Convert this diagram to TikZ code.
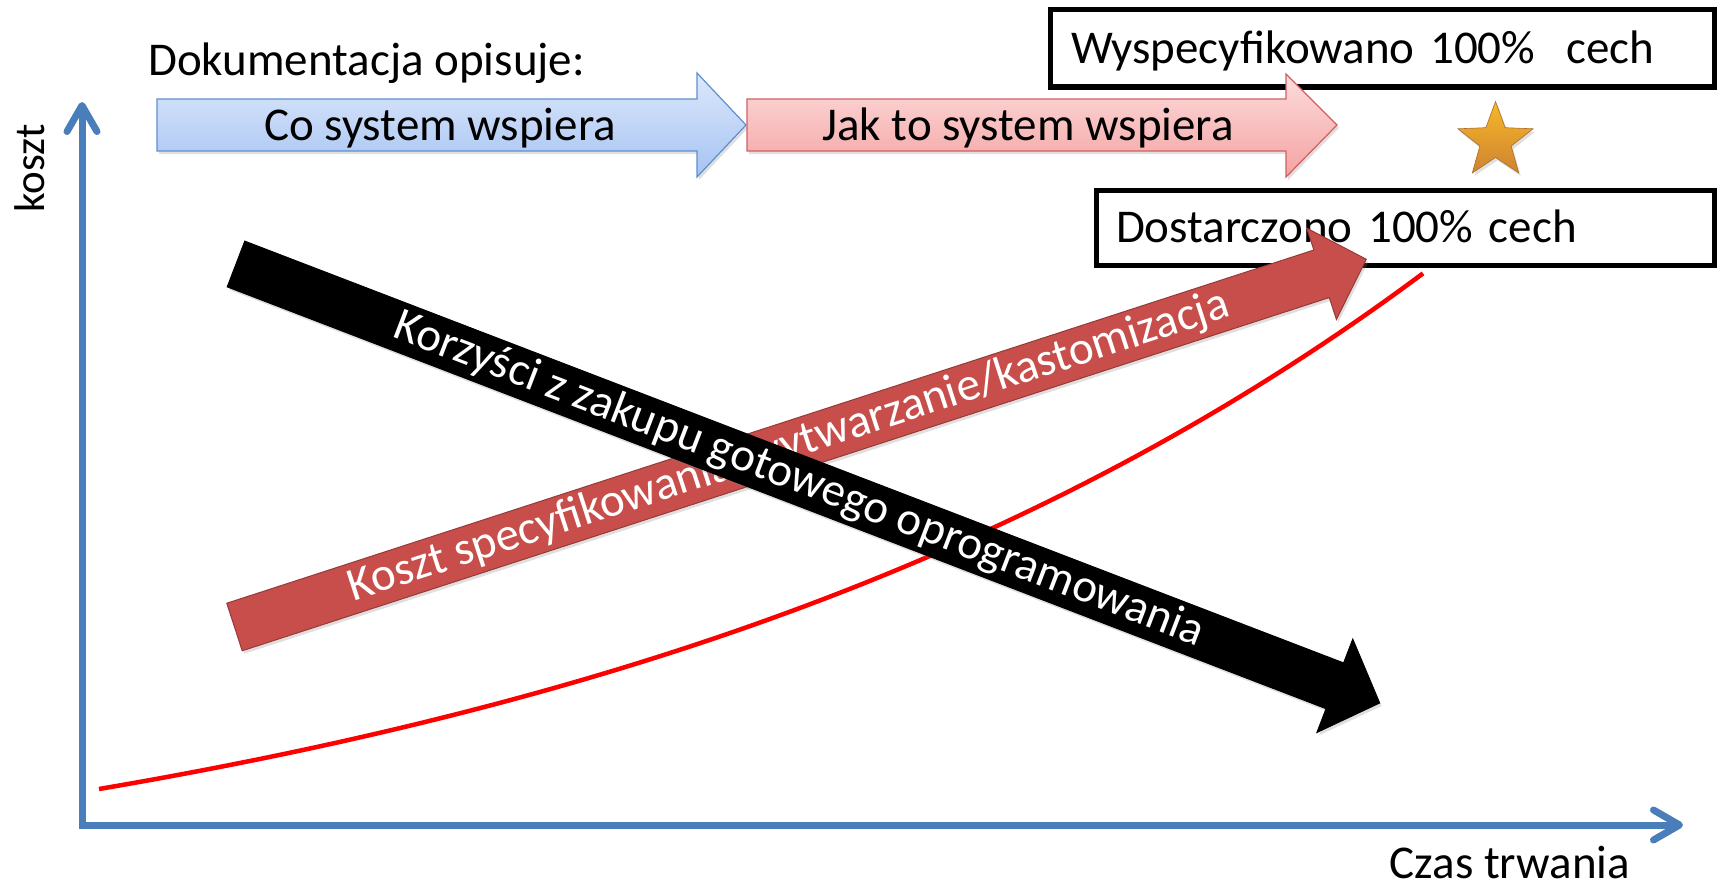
\documentclass[tikz,border=0pt]{standalone}
\usepackage{fontspec}
\setmainfont{Carlito}
\usetikzlibrary{arrows.meta,shapes.geometric,shadows}
\definecolor{axisblue}{HTML}{4A7EBB}
\definecolor{bluetop}{HTML}{DCE8FB}
\definecolor{bluebot}{HTML}{A6C3F2}
\definecolor{blueline}{HTML}{5E8FD3}
\definecolor{pinktop}{HTML}{FDDCDC}
\definecolor{pinkbot}{HTML}{F4A2A2}
\definecolor{pinkline}{HTML}{D06060}
\definecolor{costred}{HTML}{C84E4B}
\definecolor{starorange}{HTML}{F39A3A}
\tikzset{
	txt/.style={font=\fontsize{47}{56}\selectfont, inner sep=0pt},
	box/.style={txt, draw, fill=white, line width=5pt, outer sep=0pt, align=left, text height=40pt, text depth=10pt},
	axis/.style={axisblue, line width=7pt, line join=miter, {Straight Barb[length=26pt,width=30pt,round]}-{Straight Barb[length=26pt,width=30pt,round]}},
	softshadow/.style={drop shadow={opacity=0.25, shadow xshift=2pt, shadow yshift=-3pt}},
	bluearrow/.style={draw=blueline, line width=1.2pt, top color=bluetop, bottom color=bluebot, softshadow},
	pinkarrow/.style={draw=pinkline, line width=1.2pt, top color=pinktop, bottom color=pinkbot, softshadow},
	redarrow/.style={fill=costred, draw=costred!75!black, line width=1pt, softshadow},
	blackarrow/.style={fill=black, draw=black, line width=1pt, softshadow},
	slant/.style={txt, white}
}

\begin{document}
\begin{tikzpicture}[x=1pt, y=-1pt]
	\useasboundingbox (0,0) rectangle (1719,883);

	% axes
	\coordinate (origin) at (82,825);
	\coordinate (ytop) at (82,102);
	\coordinate (xend) at (1683,825);
	\draw [axis] (ytop) -- (origin) -- (xend);
	\node [txt, font=\fontsize{43}{50}\selectfont, rotate=90, anchor=base] (ylabel) at (44,168) {koszt};
	\node [txt, anchor=base] (xlabel) at (1510,878) {Czas trwania};

	% cost curve
	\draw [red, line width=4.5pt] plot [domain=99:1423, samples=80] (\x, {789-153*(exp(0.00112*(\x-99))-1)});

	% boxes and star
	\node [box, minimum width=664pt, minimum height=77pt, text width=622pt, inner xsep=21pt, anchor=north west] (spec) at (1050,10) {Wyspecyfikowano 100\%\ \ cech};
	\node [box, minimum width=618pt, minimum height=75.5pt, text width=578pt, inner xsep=20pt, anchor=north west] (done) at (1096,190) {Dostarczono 100\% cech};
	\node [star, star points=5, star point ratio=2.4, minimum size=79pt, inner sep=0pt, draw=starorange!70!black, line width=0.6pt, top color=starorange!70!yellow, bottom color=starorange!85!black, softshadow] (goal) at (1495.5,141) {};

	% documentation phases
	\node [txt, anchor=base west] (doc) at (148,76) {Dokumentacja opisuje:};
	\path [bluearrow] (157,99) -- (697,99) -- (697,73) -- (746,125) -- (697,177) -- (697,151) -- (157,151) -- cycle;
	\path [pinkarrow] (747,99) -- (1286,99) -- (1286,74) -- (1337,125) -- (1286,177) -- (1286,151) -- (747,151) -- cycle;
	\node [txt, anchor=base] (what) at (440,140) {Co system wspiera};
	\node [txt, anchor=base] (how) at (1028,140) {Jak to system wspiera};

	% cost of specifying
	\begin{scope}[shift={(234.5,627)}, rotate=18]
		\path [redarrow] (0,-25) -- (1143,-25) -- (1143,-48) -- (1190,0) -- (1143,48) -- (1143,25) -- (0,25) -- cycle;
		\node [slant, rotate=18] (cost) at (583,0) {Koszt specyfikowania/wytwarzanie/kastomizacja};
	\end{scope}

	% benefits of buying
	\begin{scope}[shift={(236,264)}, rotate=-21]
		\path [blackarrow] (0,-24.5) -- (1177,-24.5) -- (1177,-50) -- (1225,0) -- (1177,50) -- (1177,24.5) -- (0,24.5) -- cycle;
		\node [slant, rotate=-21] (gain) at (603,0) {Korzyści z zakupu gotowego oprogramowania};
	\end{scope}
\end{tikzpicture}
\end{document}
